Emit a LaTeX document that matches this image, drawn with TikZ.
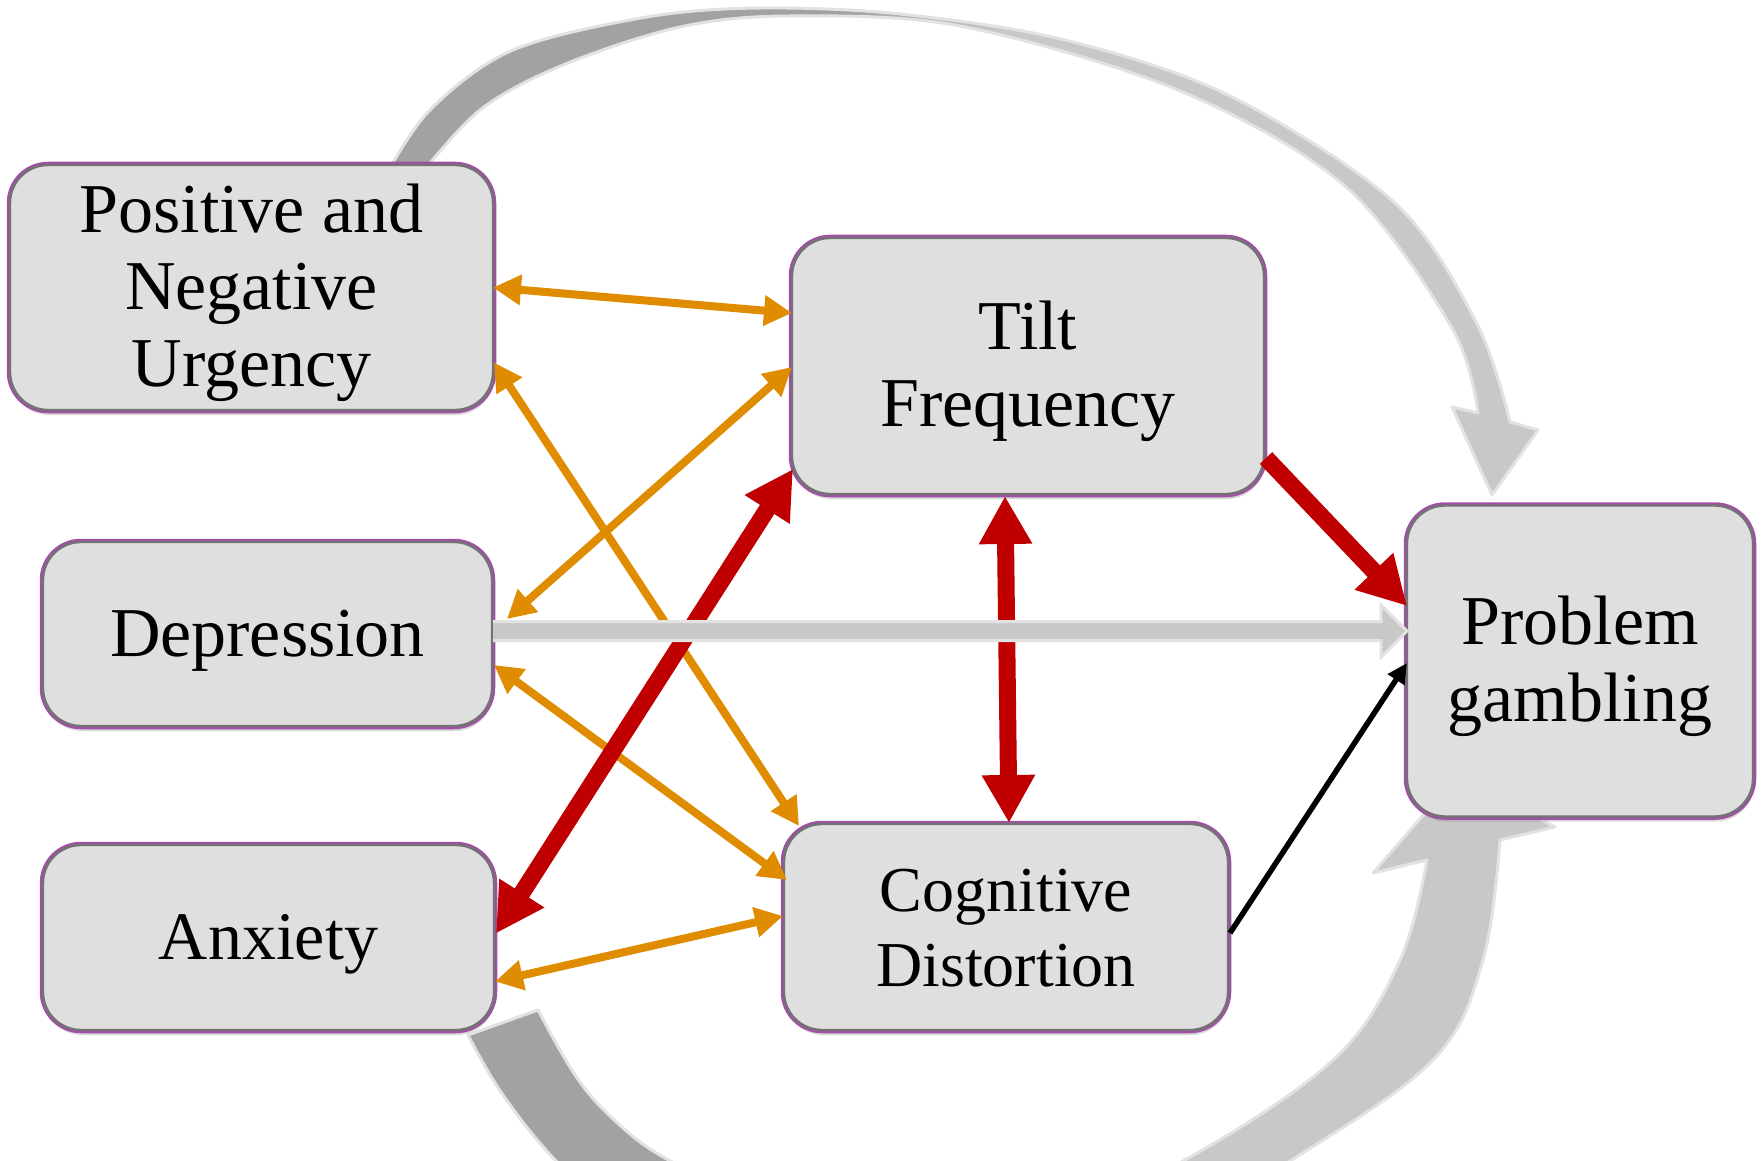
\documentclass[tikz,border=0pt]{standalone}
\usepackage{fontspec}
\setmainfont{Liberation Serif}
\usetikzlibrary{arrows.meta,calc,shadows}

\definecolor{boxfill}{RGB}{223,223,223}
\definecolor{boxpurple}{RGB}{160,80,165}
\definecolor{boxline}{RGB}{115,115,115}
\definecolor{orangeC}{RGB}{224,140,0}
\definecolor{redC}{RGB}{192,0,0}
\definecolor{arcdark}{RGB}{162,162,162}
\definecolor{arclight}{RGB}{200,200,200}
\definecolor{arcedge}{RGB}{226,226,226}

\pgfdeclarehorizontalshading{arcshade}{100bp}{color(0bp)=(arcdark); color(45bp)=(arcdark); color(52bp)=(arclight); color(100bp)=(arclight)}

\newcommand{\boxtext}[1]{\raisebox{-7pt}[\height][\depth]{\begin{tabular}{@{}c@{}}#1\end{tabular}}}

\tikzset{
  box/.style={rectangle, rounded corners=38pt, fill=boxfill, draw=boxline, line width=2.4pt,
    drop shadow={shadow xshift=1pt, shadow yshift=-5pt, opacity=0.3},
    preaction={draw=boxpurple, line width=6.5pt},
    align=center, font=\fontsize{70}{77}\selectfont, inner sep=0pt, outer sep=0pt},
  orangearrow/.style={draw=orangeC, line width=8pt,
    {Triangle[length=28pt,width=29pt]}-{Triangle[length=28pt,width=29pt]}},
  redboth/.style={draw=redC, line width=17pt,
    {Triangle[length=48pt,width=50pt]}-{Triangle[length=48pt,width=50pt]}},
  redone/.style={draw=redC, line width=17pt, -{Triangle[length=48pt,width=50pt]}},
  blackarrow/.style={draw=black, line width=5.5pt, -{Triangle[length=20pt,width=19pt]}},
  bigarc/.style={shading=arcshade, draw=arcedge, line width=3pt, line join=round},
}

\begin{document}
\begin{tikzpicture}[x=1pt,y=-1pt]
\useasboundingbox (0,0) rectangle (1762,1161);
\fill[white] (0,0) rectangle (1762,1161);

% big curved arrows
\begin{scope}
\clip (0,0) rectangle (1762,1161);
\shadedraw[bigarc]
  plot[smooth, tension=0.55] coordinates {(383,180) (430,110) (513,50) (647,17) (760,8) (900,14) (1065,40) (1230,96) (1395,203) (1477,324) (1510,422)}
  -- (1538,430) -- (1492,495) -- (1452,407) -- (1478,413)
  -- plot[smooth, tension=0.55] coordinates {(1478,413) (1452,328) (1345,186) (1178,90) (960,26) (790,16) (680,27) (563,65) (480,110) (416,180)}
  -- cycle;
\shadedraw[bigarc]
  (538,1010) -- (468,1035)
  -- plot[smooth, tension=0.6] coordinates {(468,1035) (503,1095) (560,1165) (650,1245) (790,1300) (960,1305) (1120,1260) (1290,1161) (1433,1060) (1483,960) (1500,840)}
  -- (1555,827) -- (1458,775) -- (1373,873) -- (1427,860)
  -- plot[smooth, tension=0.6] coordinates {(1427,860) (1400,960) (1333,1060) (1183,1161) (1050,1215) (900,1230) (760,1200) (665,1158) (612,1118) (575,1075) (538,1010)}
  -- cycle;
\end{scope}

% boxes
\node[box, minimum width=483pt, minimum height=245pt] (pnu) at (251.5,287.5) {\boxtext{Positive and\\Negative\\Urgency}};
\node[box, minimum width=449pt, minimum height=184pt] (dep) at (267.5,634) {\boxtext{Depression}};
\node[box, minimum width=451pt, minimum height=185pt, font=\fontsize{68}{77}\selectfont] (anx) at (268.5,937.5) {\boxtext{Anxiety}};
\node[box, minimum width=472pt, minimum height=256pt] (tilt) at (1028,366) {\boxtext{Tilt\\Frequency}};
\node[box, minimum width=444pt, minimum height=206pt, font=\fontsize{64}{75}\selectfont] (cog) at (1006,927) {\boxtext{Cognitive\\Distortion}};
\node[box, minimum width=346pt, minimum height=311pt] (pg) at (1580,661) {\boxtext{Problem\\gambling}};

% orange connectors
\draw[orangearrow] (pnu.east) -- ($(tilt.west)+(0,-53)$);
\draw[orangearrow] ($(pnu.east)+(1,75)$) -- ($(cog.north west)+(15,2)$);
\draw[orangearrow] ($(dep.east)+(15,-15)$) -- ($(tilt.west)+(0,1)$);
\draw[orangearrow] ($(dep.east)+(2,31)$) -- ($(cog.west)+(3,-47)$);
\draw[orangearrow] ($(anx.east)+(1,44)$) -- ($(cog.west)+(-1,-11)$);

% red connectors
\draw[redboth] ($(anx.east)+(2,-4)$) -- ($(tilt.south west)+(1,-25)$);
\draw[redboth] ($(tilt.south)+(-23,2)$) -- ($(cog.north)+(3,-1)$);
\draw[redone] ($(tilt.east)+(2,92)$) -- ($(pg.west)+(0,-55)$);

% black connector
\draw[blackarrow] ($(cog.east)+(2,6)$) -- ($(pg.west)+(0,2)$);

% grey horizontal arrow
\coordinate (gs) at ($(dep.east)+(1,-3)$);
\coordinate (gt) at (pg.west |- gs);
\fill[arclight] ($(gs)+(0,-9.5)$) -- ($(gt)+(-26,-9.5)$) -- ($(gt)+(-26,-26)$) -- (gt) -- ($(gt)+(-26,26)$) -- ($(gt)+(-26,9.5)$) -- ($(gs)+(0,9.5)$) -- cycle;
\draw[arcedge, line width=3pt] ($(gs)+(0,-9.5)$) -- ($(gt)+(-26,-9.5)$) -- ($(gt)+(-26,-26)$) -- (gt) -- ($(gt)+(-26,26)$) -- ($(gt)+(-26,9.5)$) -- ($(gs)+(0,9.5)$);
\end{tikzpicture}
\end{document}
